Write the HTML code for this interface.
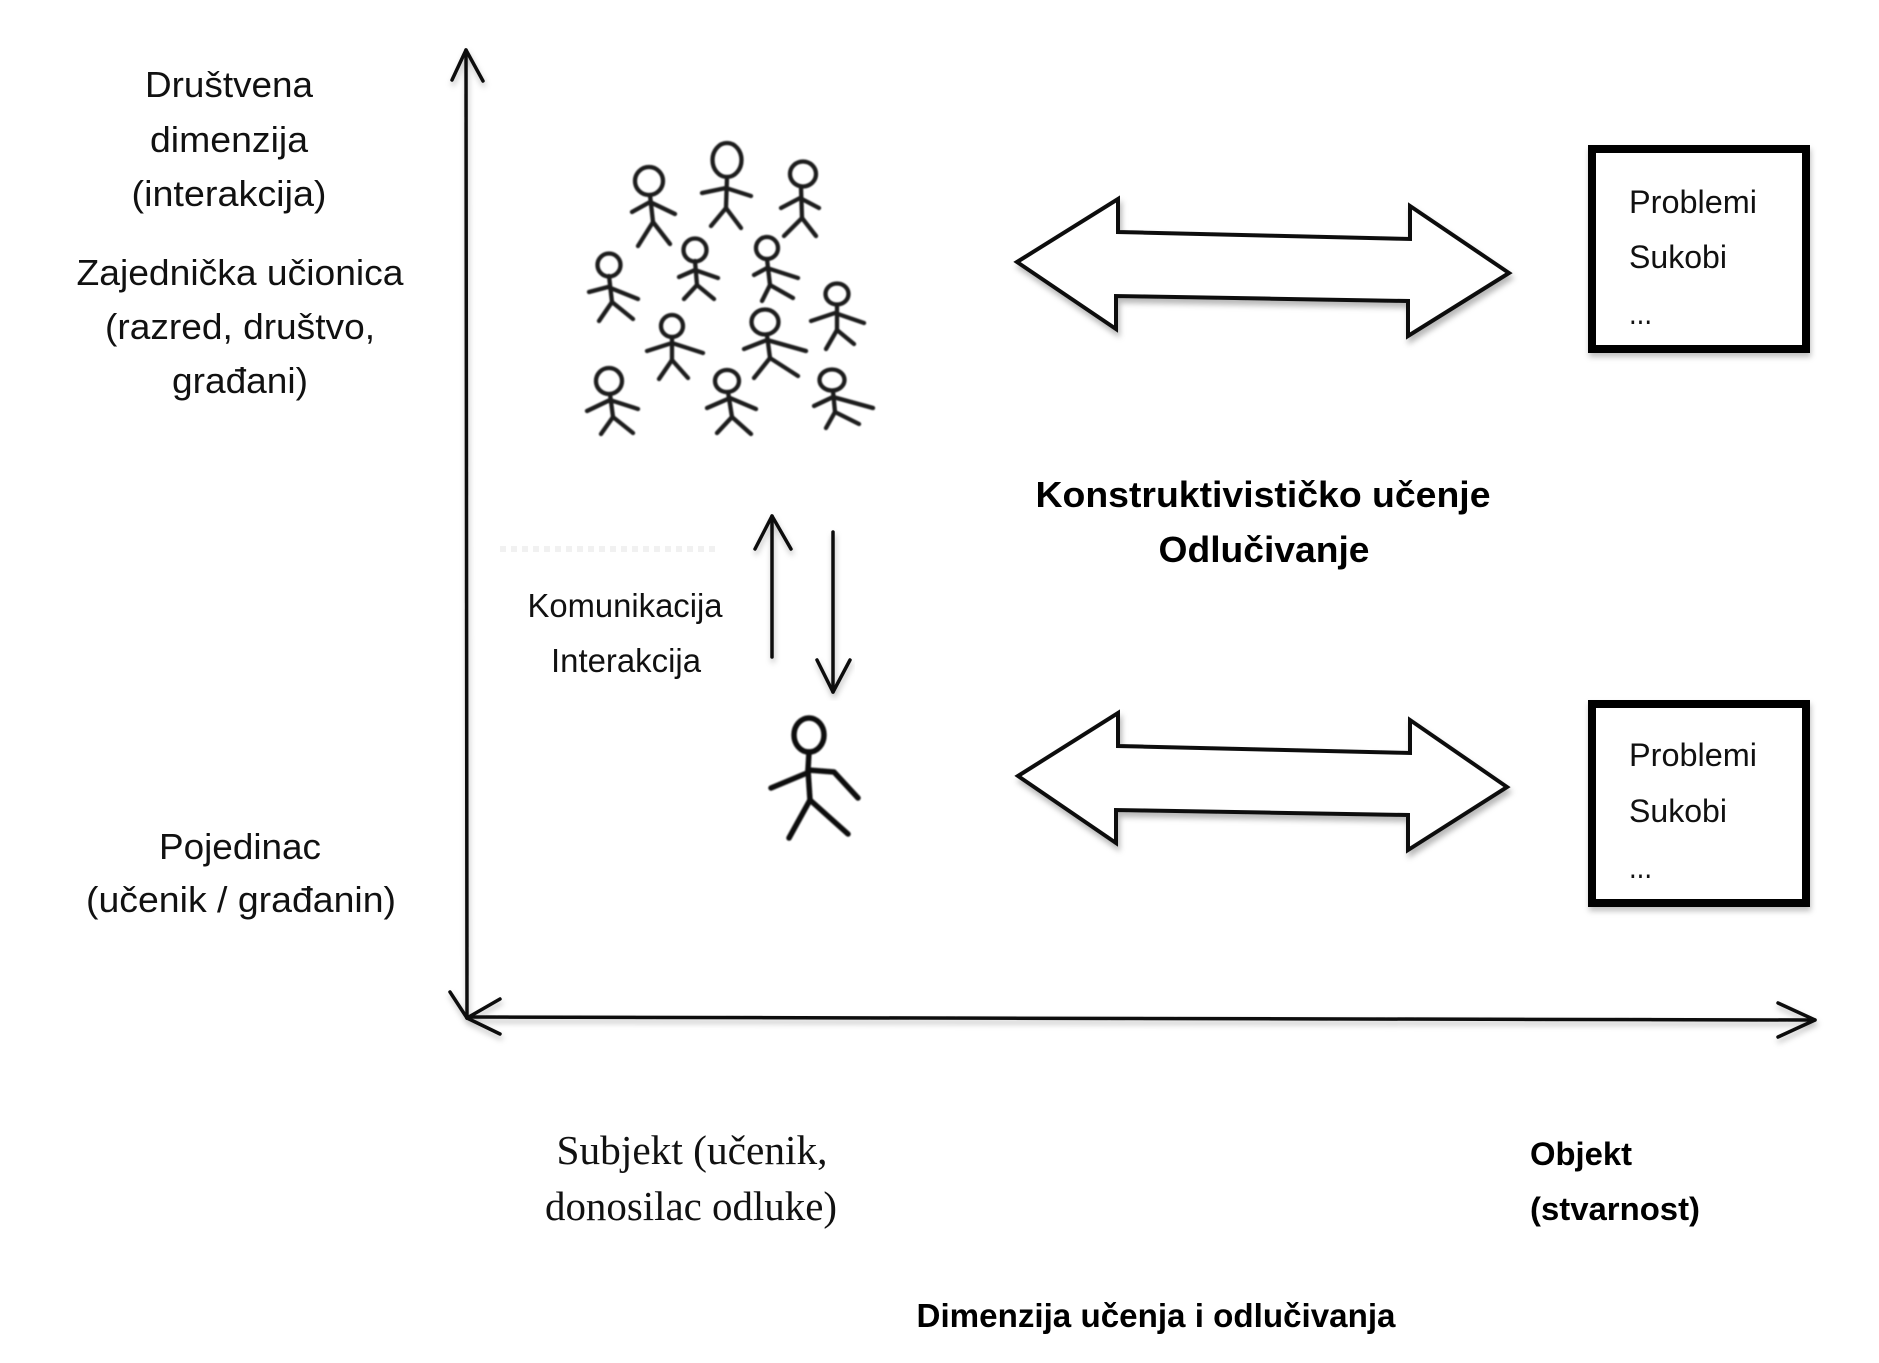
<!DOCTYPE html>
<html>
<head>
<meta charset="utf-8">
<style>
  html, body { margin: 0; padding: 0; background: #ffffff; }
  svg { display: block; }
  .sans { font-family: "Liberation Sans", Arial, sans-serif; fill: #111; }
  .bold { font-family: "Liberation Sans", Arial, sans-serif; font-weight: bold; fill: #000; }
  .serif { font-family: "Liberation Serif", "Times New Roman", serif; fill: #111; }
</style>
</head>
<body>
<svg width="1879" height="1363" viewBox="0 0 1879 1363" xmlns="http://www.w3.org/2000/svg">
  <defs>
    <filter id="sh" x="-10%" y="-30%" width="120%" height="160%">
      <feDropShadow dx="2" dy="5" stdDeviation="3" flood-color="#000" flood-opacity="0.28"/>
    </filter>
    <filter id="shl" x="-5%" y="-5%" width="110%" height="110%">
      <feDropShadow dx="1" dy="4" stdDeviation="3" flood-color="#000" flood-opacity="0.25"/>
    </filter>
    <filter id="soft" x="-10%" y="-10%" width="120%" height="120%">
      <feGaussianBlur stdDeviation="0.8"/>
    </filter>
  </defs>

  <rect width="1879" height="1363" fill="#fff"/>

  <!-- Axes -->
  <g filter="url(#shl)" stroke="#111" stroke-width="3.5" fill="none" stroke-linecap="round" stroke-linejoin="round">
    <line x1="466" y1="50" x2="467" y2="1018"/>
    <polyline points="452,80 466,50 483,81"/>
    <line x1="467" y1="1017" x2="1815" y2="1020"/>
    <polyline points="1778,1003 1815,1020 1778,1037"/>
    <line x1="467" y1="1018" x2="450" y2="992"/>
    <line x1="467" y1="1018" x2="500" y2="999"/>
    <line x1="467" y1="1018" x2="500" y2="1034"/>
  </g>

  <!-- Left labels -->
  <g class="sans" font-size="36" text-anchor="middle">
    <text x="229" y="97" textLength="168" lengthAdjust="spacingAndGlyphs">Društvena</text>
    <text x="229" y="152" textLength="158" lengthAdjust="spacingAndGlyphs">dimenzija</text>
    <text x="229" y="206" textLength="195" lengthAdjust="spacingAndGlyphs">(interakcija)</text>
    <text x="240" y="285" textLength="327" lengthAdjust="spacingAndGlyphs">Zajednička učionica</text>
    <text x="240" y="339" textLength="270" lengthAdjust="spacingAndGlyphs">(razred, društvo,</text>
    <text x="240" y="393" textLength="136" lengthAdjust="spacingAndGlyphs">građani)</text>
    <text x="240" y="859" textLength="162" lengthAdjust="spacingAndGlyphs">Pojedinac</text>
    <text x="241" y="912" textLength="310" lengthAdjust="spacingAndGlyphs">(učenik / građanin)</text>
  </g>

  <!-- Crowd of stick figures -->
  <g stroke="#1a1a1a" stroke-width="4.3" fill="none" stroke-linecap="round" stroke-linejoin="round" filter="url(#soft)">
    <!-- 1 -->
    <circle cx="649" cy="181" r="14"/>
    <polyline points="650,195 653,222"/>
    <polyline points="632,212 650,202 675,214"/>
    <polyline points="638,246 653,222 670,244"/>
    <!-- 2 -->
    <ellipse cx="727" cy="160" rx="14.5" ry="17"/>
    <polyline points="727,177 726,208"/>
    <polyline points="702,193 726,188 751,196"/>
    <polyline points="711,226 726,208 741,228"/>
    <!-- 3 -->
    <ellipse cx="803" cy="174" rx="13" ry="12.5"/>
    <polyline points="801,187 802,218"/>
    <polyline points="781,208 800,198 819,208"/>
    <polyline points="784,236 802,218 816,236"/>
    <!-- 4 -->
    <circle cx="609" cy="265" r="11.5"/>
    <polyline points="609,276 612,302"/>
    <polyline points="589,292 608,287 638,299"/>
    <polyline points="599,321 612,302 633,319"/>
    <!-- 5 -->
    <circle cx="695" cy="250" r="11.5"/>
    <polyline points="695,261 697,285"/>
    <polyline points="679,277 695,270 718,278"/>
    <polyline points="684,299 697,285 714,299"/>
    <!-- 6 -->
    <circle cx="767" cy="248" r="11"/>
    <polyline points="767,259 770,285"/>
    <polyline points="754,275 767,268 798,278"/>
    <polyline points="762,301 770,285 793,298"/>
    <!-- 7 -->
    <ellipse cx="837" cy="294" rx="11.5" ry="10.5"/>
    <polyline points="837,305 837,330"/>
    <polyline points="811,321 835,313 864,323"/>
    <polyline points="826,349 837,330 854,344"/>
    <!-- 8 -->
    <circle cx="672" cy="326" r="11"/>
    <polyline points="672,337 672,360"/>
    <polyline points="647,351 672,343 703,353"/>
    <polyline points="659,379 672,360 688,378"/>
    <!-- 9 -->
    <ellipse cx="765" cy="322" rx="13.5" ry="12.5"/>
    <polyline points="767,335 770,358"/>
    <polyline points="744,349 767,340 806,351"/>
    <polyline points="754,378 770,358 798,376"/>
    <!-- 10 -->
    <circle cx="609" cy="381" r="13"/>
    <polyline points="610,394 613,417"/>
    <polyline points="587,411 610,400 638,409"/>
    <polyline points="601,434 613,417 633,433"/>
    <!-- 11 -->
    <ellipse cx="727" cy="381" rx="12" ry="11"/>
    <polyline points="728,392 732,417"/>
    <polyline points="707,408 730,398 756,409"/>
    <polyline points="717,433 732,417 751,434"/>
    <!-- 12 -->
    <ellipse cx="832" cy="380" rx="12.5" ry="10.5"/>
    <polyline points="833,391 835,412"/>
    <polyline points="814,406 833,397 873,408"/>
    <polyline points="826,428 835,412 859,424"/>
  </g>

  <!-- faint artifact line -->
  <line x1="500" y1="549" x2="720" y2="549" stroke="#f1f1f1" stroke-width="6" stroke-dasharray="6 5"/>

  <!-- Communication arrows -->
  <g stroke="#111" stroke-width="3.5" fill="none" stroke-linecap="round" stroke-linejoin="round" filter="url(#shl)">
    <line x1="772" y1="516" x2="772" y2="657"/>
    <polyline points="755,549 772,516 791,549"/>
    <line x1="833" y1="532" x2="833" y2="692"/>
    <polyline points="817,660 833,692 850,660"/>
  </g>

  <g class="sans" font-size="33" text-anchor="middle">
    <text x="625" y="617" textLength="195" lengthAdjust="spacingAndGlyphs">Komunikacija</text>
    <text x="626" y="672" textLength="150" lengthAdjust="spacingAndGlyphs">Interakcija</text>
  </g>

  <!-- Single figure -->
  <g stroke="#111" stroke-width="5.5" fill="none" stroke-linecap="round" stroke-linejoin="round" filter="url(#soft)">
    <ellipse cx="809" cy="735" rx="15" ry="17"/>
    <polyline points="809,752 808,770 810,800"/>
    <polyline points="771,788 807,773"/>
    <polyline points="808,770 834,772 858,798"/>
    <polyline points="789,838 810,800 848,834"/>
  </g>

  <!-- Double arrows -->
  <g filter="url(#sh)" stroke="#111" stroke-width="4" fill="#fff" stroke-linejoin="miter">
    <polygon points="1017,262 1118,199 1118,232 1410,239 1410,206 1509,273 1408,336 1408,301 1116,296 1116,329"/>
    <polygon points="1018,776 1118,713 1118,746 1410,753 1410,720 1507,787 1408,850 1408,815 1116,810 1116,843"/>
  </g>

  <!-- Boxes -->
  <g filter="url(#shl)" stroke="#000" stroke-width="8" fill="#fff">
    <rect x="1592" y="149" width="214" height="200"/>
    <rect x="1592" y="704" width="214" height="199"/>
  </g>
  <g class="sans" font-size="32">
    <text x="1629" y="213" textLength="128" lengthAdjust="spacingAndGlyphs">Problemi</text>
    <text x="1629" y="268" textLength="98" lengthAdjust="spacingAndGlyphs">Sukobi</text>
    <text x="1629" y="324" textLength="23" lengthAdjust="spacingAndGlyphs">...</text>
    <text x="1629" y="766" textLength="128" lengthAdjust="spacingAndGlyphs">Problemi</text>
    <text x="1629" y="822" textLength="98" lengthAdjust="spacingAndGlyphs">Sukobi</text>
    <text x="1629" y="878" textLength="23" lengthAdjust="spacingAndGlyphs">...</text>
  </g>

  <!-- Center bold labels -->
  <g class="bold" font-size="36" text-anchor="middle">
    <text x="1263" y="507" textLength="455" lengthAdjust="spacingAndGlyphs">Konstruktivističko učenje</text>
    <text x="1264" y="562" textLength="211" lengthAdjust="spacingAndGlyphs">Odlučivanje</text>
  </g>

  <!-- Bottom labels -->
  <g class="serif" font-size="41" text-anchor="middle">
    <text x="692" y="1164" textLength="271" lengthAdjust="spacingAndGlyphs">Subjekt (učenik,</text>
    <text x="691" y="1220" textLength="292" lengthAdjust="spacingAndGlyphs">donosilac odluke)</text>
  </g>

  <g class="bold" font-size="32">
    <text x="1530" y="1165" textLength="102" lengthAdjust="spacingAndGlyphs">Objekt</text>
    <text x="1530" y="1220" textLength="170" lengthAdjust="spacingAndGlyphs">(stvarnost)</text>
  </g>

  <text class="bold" font-size="33" x="1156" y="1327" text-anchor="middle" textLength="479" lengthAdjust="spacingAndGlyphs">Dimenzija učenja i odlučivanja</text>
</svg>
</body>
</html>
